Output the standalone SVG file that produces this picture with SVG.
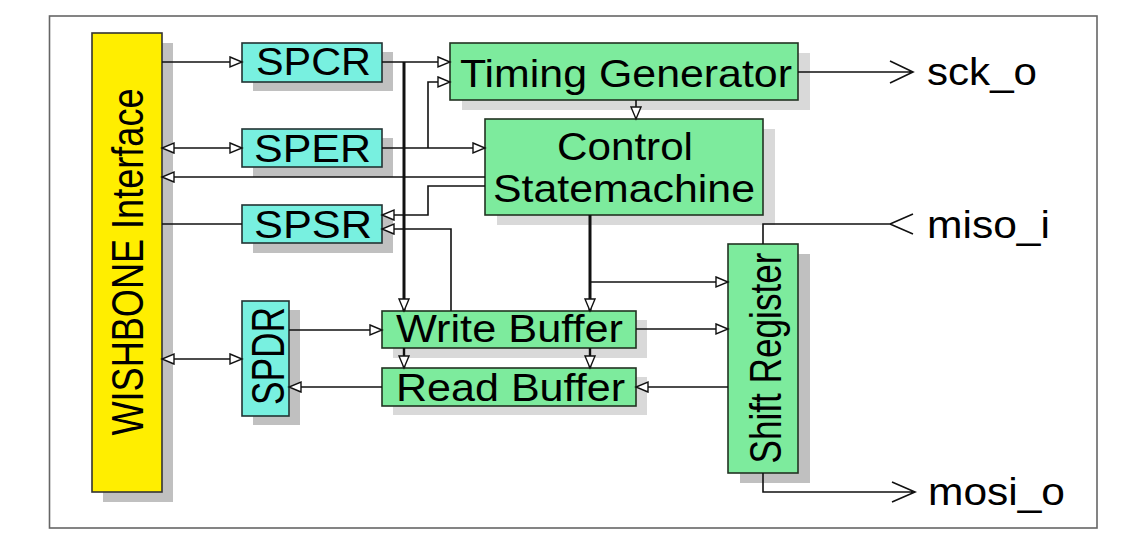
<svg xmlns="http://www.w3.org/2000/svg" width="1127" height="541" viewBox="0 0 1127 541">
<defs>
<marker id="tri" markerUnits="userSpaceOnUse" markerWidth="15" markerHeight="13" refX="13" refY="6" orient="auto-start-reverse" viewBox="0 0 15 13">
<path d="M1,1 L13,6 L1,11 z" fill="#fff" stroke="#111" stroke-width="1.4"/>
</marker>
<style>
.bg{fill:#fff}
.frame{fill:none;stroke:#666;stroke-width:1.6}
.sh1{fill:#c0c0c0}
.sh2{fill:#d9d9d9}
.y{fill:#ffee00;stroke:#333;stroke-width:1.6}
.c{fill:#78f0e0;stroke:#233;stroke-width:1.6}
.g{fill:#7deb9d;stroke:#232;stroke-width:1.6}
.t{font-family:"Liberation Sans",Arial,sans-serif;font-size:39px;fill:#000}
.p{font-size:38px}
.ln{fill:none;stroke:#111;stroke-width:1.6}
.thick{stroke-width:3}
.mid{stroke-width:2.4}
.a{marker-end:url(#tri)}
.b{marker-start:url(#tri);marker-end:url(#tri)}
</style>
</defs>
<rect class="bg" x="0" y="0" width="1127" height="541"/>
<rect class="frame" x="49.5" y="16" width="1047.5" height="512"/>

<g id="wishbone">
<rect class="sh1" x="103" y="43" width="70" height="459"/>
<rect class="y" x="92" y="33" width="70" height="459"/>
<text class="t" text-anchor="middle" font-size="38" textLength="347" lengthAdjust="spacingAndGlyphs" transform="translate(143,262) scale(1.15,1) rotate(-90)">WISHBONE Interface</text>
</g>

<g id="spcr">
<rect class="sh1" x="253" y="52" width="140" height="39"/>
<rect class="c" x="242" y="43" width="140" height="39"/>
<text class="t" x="256" y="74.5" textLength="115" lengthAdjust="spacingAndGlyphs">SPCR</text>
</g>

<g id="sper">
<rect class="sh1" x="253" y="138" width="140" height="39"/>
<rect class="c" x="242" y="129" width="140" height="38"/>
<text class="t" x="254" y="161.5" textLength="117" lengthAdjust="spacingAndGlyphs">SPER</text>
</g>

<g id="spsr">
<rect class="sh1" x="253" y="214" width="140" height="39"/>
<rect class="c" x="242" y="205" width="140" height="38"/>
<text class="t" x="254" y="237.5" textLength="118" lengthAdjust="spacingAndGlyphs">SPSR</text>
</g>

<g id="spdr">
<rect class="sh1" x="253" y="310" width="47" height="115"/>
<rect class="c" x="242" y="301" width="47" height="115"/>
<text class="t" text-anchor="middle" font-size="38" textLength="98" lengthAdjust="spacingAndGlyphs" transform="translate(283.5,356) scale(1.2,1) rotate(-90)">SPDR</text>
</g>

<g id="timing">
<rect class="sh2" x="462" y="53" width="348" height="57"/>
<rect class="g" x="450" y="43" width="348" height="57"/>
<text class="t" x="460" y="86.5" font-size="40" textLength="332" lengthAdjust="spacingAndGlyphs">Timing Generator</text>
</g>

<g id="control">
<rect class="sh2" x="497" y="129" width="278" height="96"/>
<rect class="g" x="485" y="119" width="278" height="96"/>
<text class="t" x="557" y="160" textLength="136" lengthAdjust="spacingAndGlyphs">Control</text>
<text class="t" x="493" y="202" textLength="262" lengthAdjust="spacingAndGlyphs">Statemachine</text>
</g>

<g id="writebuf">
<rect class="sh2" x="393" y="320" width="254" height="38"/>
<rect class="g" x="382" y="311" width="254" height="37"/>
<text class="t" x="396" y="342" textLength="227" lengthAdjust="spacingAndGlyphs">Write Buffer</text>
</g>

<g id="readbuf">
<rect class="sh2" x="393" y="377" width="254" height="38"/>
<rect class="g" x="382" y="368" width="254" height="38"/>
<text class="t" x="396" y="400.5" textLength="229" lengthAdjust="spacingAndGlyphs">Read Buffer</text>
</g>

<g id="shiftreg">
<rect class="sh1" x="740" y="254" width="70" height="229"/>
<rect class="g" x="728" y="244" width="70" height="229"/>
<text class="t" text-anchor="middle" font-size="38" textLength="211" lengthAdjust="spacingAndGlyphs" transform="translate(780.5,358) scale(1.15,1) rotate(-90)">Shift Register</text>
</g>

<g id="pins">
<text class="t p" x="927" y="85" textLength="110" lengthAdjust="spacingAndGlyphs">sck_o</text>
<text class="t p" x="927" y="238" textLength="123" lengthAdjust="spacingAndGlyphs">miso_i</text>
<text class="t p" x="928" y="505" textLength="137" lengthAdjust="spacingAndGlyphs">mosi_o</text>
</g>

<g id="connectors">
<path class="ln a" d="M162,62 H242"/>
<path class="ln a" d="M382,62 H450"/>
<path class="ln a" d="M428,148 V82 H450"/>
<path class="ln b" d="M162,148 H242"/>
<path class="ln a" d="M382,148 H485"/>
<path class="ln a" d="M485,177 H162"/>
<path class="ln a" d="M485,186 H428 V215 H382"/>
<path class="ln" d="M162,224 H242"/>
<path class="ln a" d="M451,311 V229 H382"/>
<path class="ln b" d="M162,359 H242"/>
<path class="ln a" d="M289,330 H382"/>
<path class="ln a" d="M382,387 H289"/>
<path class="ln a" d="M636,100 V119"/>
<path class="ln a" d="M590,282 H728"/>
<path class="ln a" d="M636,329 H728"/>
<path class="ln a" d="M728,387 H636"/>
<path class="ln thick a" d="M404,62 V311"/>
<path class="ln thick a" d="M590,215 V311"/>
<path class="ln mid a" d="M404,348 V368"/>
<path class="ln mid a" d="M590,348 V368"/>
<path class="ln" d="M798,72 H913 M890,61 L913,72 L890,83"/>
<path class="ln" d="M763,244 V224 H890 M913,214 L890,224 L913,234"/>
<path class="ln" d="M763,473 V492 H915 M892,482 L915,492 L892,502"/>
</g>
</svg>
